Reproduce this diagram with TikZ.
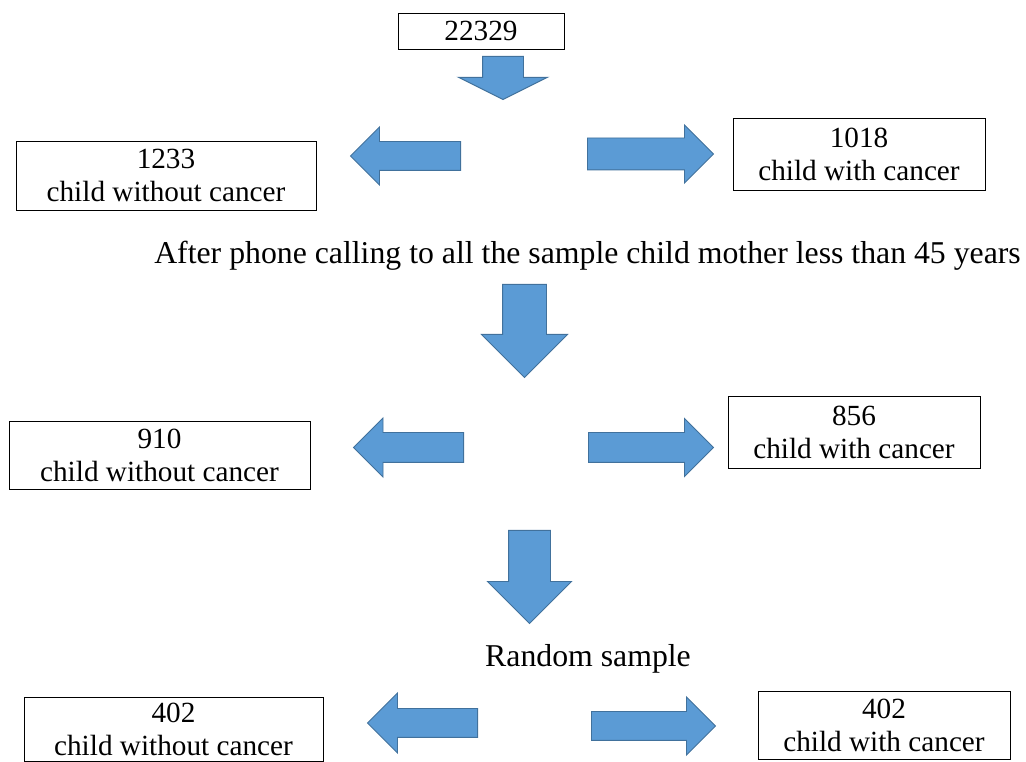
\documentclass[tikz,border=0pt]{standalone}
\usepackage{fontspec}
\setmainfont{Liberation Serif}
\usetikzlibrary{shapes.arrows}

\definecolor{arrowfill}{HTML}{5B9BD5}
\definecolor{arrowline}{HTML}{41719C}

\begin{document}
\begin{tikzpicture}[
    box/.style={draw,line width=0.6pt,align=center,inner sep=0pt,font=\fontsize{20.8}{23.4}\selectfont},
    note/.style={inner sep=0pt,font=\fontsize{22.6}{26}\selectfont},
    blockarrow/.style={single arrow,draw=arrowline,fill=arrowfill,line width=0.7pt,inner xsep=0pt,
      single arrow head indent=0pt,single arrow tip angle=90,anchor=tail}]
      % \draw[help lines](0,0) grid (26,19);
      \useasboundingbox (0,0) rectangle (25.65,19.05);

      \draw (12.025,18.275) node[box,minimum width=4.15cm,minimum height=0.9cm] (total) {22329};
      \draw (4.15,14.6625) node[box,minimum width=7.5cm,minimum height=1.725cm] (without1) {1233\\child without cancer};
      \draw (21.475,15.2) node[box,minimum width=6.3cm,minimum height=1.8cm] (with1) {1018\\child with cancer};

      \draw (14.6875,12.6625) node[note] (calling) {After phone calling to all the sample child mother less than 45 years};

      \draw (3.9875,7.675) node[box,minimum width=7.525cm,minimum height=1.7cm] (without2) {910\\child without cancer};
      \draw (21.35,8.25) node[box,minimum width=6.3cm,minimum height=1.8cm] (with2) {856\\child with cancer};

      \draw (14.7,2.575) node[note] (random) {Random sample};

      \draw (4.3375,0.825) node[box,minimum width=7.475cm,minimum height=1.6cm] (without3) {402\\child without cancer};
      \draw (22.1,0.925) node[box,minimum width=6.3cm,minimum height=1.7cm] (with3) {402\\child with cancer};

      % block arrows
      \node[blockarrow,rotate=270,minimum height=1.075cm,inner ysep=0.5cm,single arrow head extend=0.6cm,
        single arrow tip angle=127] (split1) at (12.575,17.65) {};
      \node[blockarrow,rotate=180,minimum height=2.75cm,inner ysep=0.35cm,single arrow head extend=0.3625cm] (toleft1) at (11.525,15.15) {};
      \node[blockarrow,minimum height=3.15cm,inner ysep=0.3875cm,single arrow head extend=0.325cm] (toright1) at (14.675,15.2) {};

      \node[blockarrow,rotate=270,minimum height=2.325cm,inner ysep=0.5375cm,single arrow head extend=0.525cm] (split2) at (13.1125,11.95) {};
      \node[blockarrow,rotate=180,minimum height=2.75cm,inner ysep=0.3625cm,single arrow head extend=0.3625cm] (toleft2) at (11.6,7.8625) {};
      \node[blockarrow,minimum height=3.125cm,inner ysep=0.3625cm,single arrow head extend=0.35cm] (toright2) at (14.7,7.8625) {};

      \node[blockarrow,rotate=270,minimum height=2.325cm,inner ysep=0.5125cm,single arrow head extend=0.525cm] (split3) at (13.2375,5.8) {};
      \node[blockarrow,rotate=180,minimum height=2.75cm,inner ysep=0.35cm,single arrow head extend=0.3875cm] (toleft3) at (11.95,0.975) {};
      \node[blockarrow,minimum height=3.1cm,inner ysep=0.35cm,single arrow head extend=0.3625cm] (toright3) at (14.775,0.9) {};
    \end{tikzpicture}
\end{document}
